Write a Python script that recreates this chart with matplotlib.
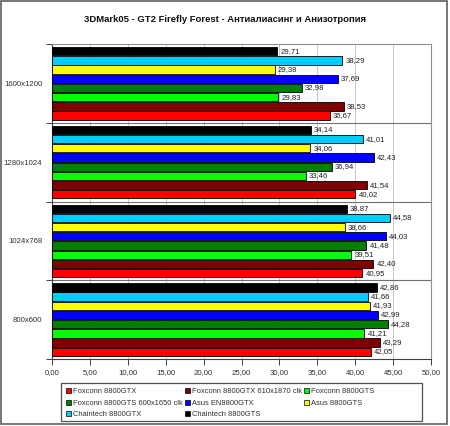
import matplotlib
matplotlib.use("Agg")
import matplotlib.pyplot as plt
from matplotlib.patches import Rectangle, Patch
from matplotlib.ticker import MultipleLocator, FuncFormatter
import numpy as np

plt.rcParams['font.family'] = ['Liberation Sans', 'DejaVu Sans']

# categories, bottom to top as drawn
resolutions = ["800x600", "1024x768", "1280x1024", "1600x1200"]

# series, in legend order (drawn bottom to top within each group)
series_names = [
    "Foxconn 8800GTX",
    "Foxconn 8800GTX 610x1870 clk",
    "Foxconn 8800GTS",
    "Foxconn 8800GTS 600x1650 clk",
    "Asus EN8800GTX",
    "Asus 8800GTS",
    "Chaintech 8800GTX",
    "Chaintech 8800GTS",
]
series_colors = ["#ff0000", "#800000", "#00ff00", "#008000",
                 "#0000ff", "#ffff00", "#00ccff", "#000000"]

foxconn_gtx = [42.05, 40.95, 40.02, 36.67]
foxconn_gtx_oc = [43.29, 42.40, 41.54, 38.53]
foxconn_gts = [41.21, 39.51, 33.46, 29.83]
foxconn_gts_oc = [44.28, 41.48, 36.94, 32.98]
asus_gtx = [42.99, 44.03, 42.43, 37.69]
asus_gts = [41.93, 38.66, 34.06, 29.38]
chaintech_gtx = [41.66, 44.58, 41.01, 38.29]
chaintech_gts = [42.86, 38.87, 34.14, 29.71]

all_series = [foxconn_gtx, foxconn_gtx_oc, foxconn_gts, foxconn_gts_oc,
              asus_gtx, asus_gts, chaintech_gtx, chaintech_gts]

fig = plt.figure(figsize=(4.5, 4.26), dpi=100)
fig.patch.set_facecolor("white")
ax = fig.add_axes([52 / 450, 1 - 359 / 426, (431 - 52) / 450, (359 - 44) / 426])

n = len(all_series)
group = 0.935
slot = group / n
bar_h = slot * 0.9
y = np.arange(len(resolutions))

for j, (vals, col, name) in enumerate(zip(all_series, series_colors, series_names)):
    pos = y - group / 2 + slot * (j + 0.5)
    ax.barh(pos, vals, height=bar_h, color=col, edgecolor="black",
            linewidth=0.6, label=name, zorder=3)
    for p, v in zip(pos, vals):
        ax.text(v + 0.4, p, f"{v:.2f}".replace(".", ","), va="center",
                ha="left", fontsize=5.6, color="#202020", zorder=4)

ax.set_xlim(0, 50)
ax.set_ylim(-0.5, len(resolutions) - 0.5)
ax.xaxis.set_major_locator(MultipleLocator(5))
ax.xaxis.set_major_formatter(FuncFormatter(lambda v, _: f"{v:.2f}".replace(".", ",")))
ax.grid(axis="x", color="#c8c8c8", linewidth=0.7, zorder=0)

ax.set_yticks(y)
ax.set_yticklabels(resolutions)
ax.set_yticks(np.arange(-0.5, len(resolutions)), minor=True)
ax.tick_params(axis="y", which="major", length=0, pad=7, labelsize=5.6, colors="#303030")
ax.tick_params(axis="y", which="minor", length=4, width=0.7, color="#404040")
ax.tick_params(axis="x", length=4, width=0.7, pad=3, labelsize=5.6,
               color="#404040", labelcolor="#303030")
for b in np.arange(0.5, len(resolutions) - 0.5):
    ax.axhline(b, color="#707070", linewidth=0.8, zorder=2)

for side in ["top", "right"]:
    ax.spines[side].set_color("#909090")
    ax.spines[side].set_linewidth(0.8)
for side in ["left", "bottom"]:
    ax.spines[side].set_color("#404040")
    ax.spines[side].set_linewidth(0.8)

fig.text(0.5, 1 - 19 / 426, "3DMark05 - GT2 Firefly Forest - Антиалиасинг и Анизотропия",
         ha="center", va="center", fontsize=6.8, fontweight="bold", color="#101010")

# legend filled row by row like the original, box drawn separately
handles = [Patch(facecolor=c, edgecolor="black", linewidth=0.5, label=nm)
           for c, nm in zip(series_colors, series_names)]
order = [0, 3, 6, 1, 4, 7, 2, 5]
leg = fig.legend([handles[i] for i in order], [series_names[i] for i in order],
                 ncol=3, loc="upper left", bbox_to_anchor=(61 / 450, 1 - 383 / 426),
                 fontsize=5.4, frameon=False, handlelength=0.6,
                 handleheight=0.6, handletextpad=0.3, columnspacing=0.3,
                 labelspacing=0.6, borderpad=0.2)
for t in leg.get_texts():
    t.set_color("#303030")

fig.patches.append(Rectangle((61 / 450, 1 - 421 / 426), 361 / 450, 38 / 426,
                             transform=fig.transFigure, fill=False,
                             edgecolor="#505050", linewidth=0.9))

fig.patches.append(Rectangle((1 / 450, 1 - 424 / 426), 446 / 450, 423 / 426,
                             transform=fig.transFigure, fill=False,
                             edgecolor="#606060", linewidth=1.2))

fig.savefig("out.png", dpi=100, facecolor="white")
